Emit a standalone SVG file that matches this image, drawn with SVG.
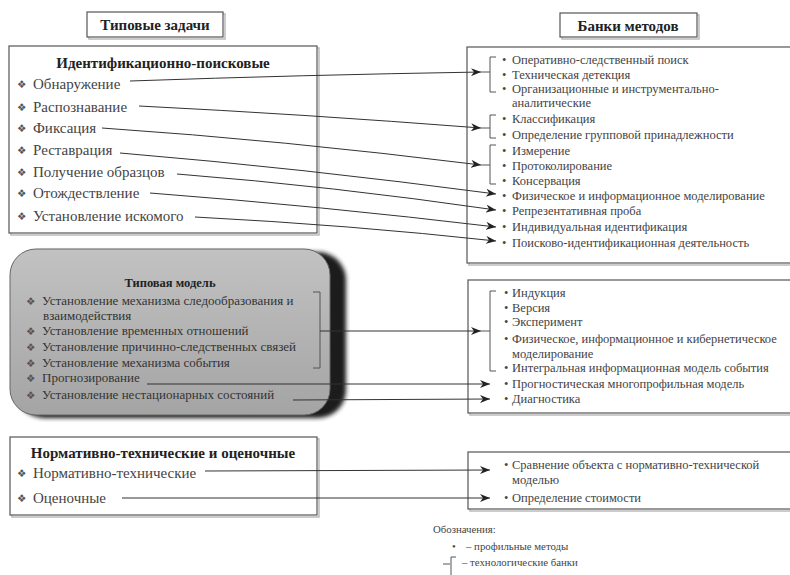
<svg xmlns="http://www.w3.org/2000/svg" width="790" height="575" viewBox="0 0 790 575">
<style>
.box{fill:#fff;stroke:#555;stroke-width:1.2}
.sh{fill:none;stroke:#bbb;stroke-width:1.5}
.hd{font-family:"Liberation Serif","Times New Roman",serif;font-weight:bold;fill:#222}
.it{font-family:"Liberation Serif","Times New Roman",serif;font-size:15px;fill:#444}
.rt{font-family:"Liberation Serif","Times New Roman",serif;font-size:12.5px;fill:#444}
.mt{font-family:"Liberation Serif","Times New Roman",serif;font-size:13px;fill:#333}
.dm{font-family:"DejaVu Sans",sans-serif;font-size:10.5px;fill:#555}
.bl{font-family:"Liberation Serif","Times New Roman",serif;font-size:10.8px;fill:#444}
.ln{fill:none;stroke:#333;stroke-width:1}
.br{fill:none;stroke:#555;stroke-width:1}
</style>
<defs>
<marker id="ar" viewBox="0 0 10 8" refX="10" refY="4" markerWidth="10" markerHeight="8" markerUnits="userSpaceOnUse" orient="auto">
<path d="M0,0 L10,4 L0,8 L3,4 Z" fill="#222"/>
</marker>
<linearGradient id="gm" x1="0" y1="0" x2="0" y2="1">
<stop offset="0" stop-color="#c2c2c2"/>
<stop offset="1" stop-color="#a4a4a4"/>
</linearGradient>
<filter id="bl" x="-10%" y="-10%" width="120%" height="120%"><feGaussianBlur stdDeviation="2"/></filter>
</defs>
<rect width="790" height="575" fill="#fff"/>

<g id="title-tasks">
<rect class="sh" x="89" y="14" width="136" height="25"/>
<rect class="box" x="87" y="12" width="136" height="25"/>
<text class="hd" x="155" y="30" font-size="15" text-anchor="middle">Типовые задачи</text>
</g>

<g id="title-banks">
<rect class="sh" x="562" y="15" width="137" height="24"/>
<rect class="box" x="560" y="13" width="137" height="24"/>
<text class="hd" x="628" y="30.5" font-size="15" text-anchor="middle">Банки методов</text>
</g>

<g id="tasks-ident">
<rect class="sh" x="11" y="48" width="308" height="187"/>
<rect class="box" x="9" y="46" width="308" height="187"/>
<text class="hd" x="163" y="68" font-size="15" text-anchor="middle">Идентификационно-поисковые</text>
<text class="dm" x="17" y="88">❖</text><text class="it" x="33" y="89">Обнаружение</text>
<text class="dm" x="17" y="111">❖</text><text class="it" x="33" y="112">Распознавание</text>
<text class="dm" x="17" y="132">❖</text><text class="it" x="33" y="133">Фиксация</text>
<text class="dm" x="17" y="154">❖</text><text class="it" x="33" y="155">Реставрация</text>
<text class="dm" x="17" y="176">❖</text><text class="it" x="33" y="177">Получение образцов</text>
<text class="dm" x="17" y="197">❖</text><text class="it" x="33" y="198">Отождествление</text>
<text class="dm" x="17" y="220">❖</text><text class="it" x="33" y="221">Установление искомого</text>
</g>

<g id="model">
<rect x="16" y="252" width="330" height="166" rx="28" fill="#1c1c1c" filter="url(#bl)"/>
<rect x="10" y="249" width="320" height="166" rx="26" fill="url(#gm)" stroke="#666" stroke-width="1"/>
<text class="hd" x="170" y="287" font-size="12.5" text-anchor="middle">Типовая модель</text>
<text class="dm" x="26" y="305">❖</text><text class="mt" x="42" y="305">Установление механизма следообразования и</text>
<text class="mt" x="43" y="320">взаимодействия</text>
<text class="dm" x="26" y="335">❖</text><text class="mt" x="42" y="335">Установление временных отношений</text>
<text class="dm" x="26" y="351">❖</text><text class="mt" x="42" y="351">Установление причинно-следственных связей</text>
<text class="dm" x="26" y="367">❖</text><text class="mt" x="42" y="367">Установление механизма события</text>
<text class="dm" x="26" y="382">❖</text><text class="mt" x="42" y="382">Прогнозирование</text>
<text class="dm" x="26" y="399">❖</text><text class="mt" x="42" y="399">Установление нестационарных состояний</text>
<path class="br" d="M313,292 H320 V368 H313"/>
</g>

<g id="tasks-norm">
<rect class="sh" x="12" y="439" width="307" height="78"/>
<rect class="box" x="10" y="437" width="307" height="78"/>
<text class="hd" x="163" y="458" font-size="15" text-anchor="middle">Нормативно-технические и оценочные</text>
<text class="dm" x="17" y="477">❖</text><text class="it" x="33" y="478">Нормативно-технические</text>
<text class="dm" x="17" y="502">❖</text><text class="it" x="33" y="503">Оценочные</text>
</g>

<g id="banks-1">
<rect class="sh" x="469" y="49" width="330" height="216"/>
<rect class="box" x="467" y="47" width="330" height="216"/>
<path class="br" d="M496,57 H490 V92 H496 M481,72 H490"/>
<path class="br" d="M496,115 H490 V138 H496 M481,128 H490"/>
<path class="br" d="M496,145 H490 V184 H496 M481,165 H490"/>
<g class="rt">
<text x="502" y="64">•</text><text x="512" y="64">Оперативно-следственный поиск</text>
<text x="502" y="79">•</text><text x="512" y="79">Техническая детекция</text>
<text x="502" y="93">•</text><text x="512" y="93">Организационные и инструментально-</text>
<text x="512" y="107">аналитические</text>
<text x="502" y="123">•</text><text x="512" y="123">Классификация</text>
<text x="502" y="139">•</text><text x="512" y="139">Определение групповой принадлежности</text>
<text x="502" y="155">•</text><text x="512" y="155">Измерение</text>
<text x="502" y="170">•</text><text x="512" y="170">Протоколирование</text>
<text x="502" y="185">•</text><text x="512" y="185">Консервация</text>
<text x="502" y="200">•</text><text x="512" y="200">Физическое и информационное моделирование</text>
<text x="502" y="215">•</text><text x="512" y="215">Репрезентативная проба</text>
<text x="502" y="231">•</text><text x="512" y="231">Индивидуальная идентификация</text>
<text x="502" y="247">•</text><text x="512" y="247">Поисково-идентификационная деятельность</text>
</g>
</g>

<g id="banks-2">
<rect class="sh" x="470" y="282" width="330" height="133"/>
<rect class="box" x="468" y="280" width="330" height="133"/>
<path class="br" d="M496,291 H490 V371 H496 M481,331 H490"/>
<g class="rt">
<text x="504" y="297">•</text><text x="512" y="297">Индукция</text>
<text x="504" y="312">•</text><text x="512" y="312">Версия</text>
<text x="504" y="326">•</text><text x="512" y="326">Эксперимент</text>
<text x="504" y="343">•</text><text x="512" y="343">Физическое, информационное и кибернетическое</text>
<text x="512" y="358">моделирование</text>
<text x="504" y="372">•</text><text x="512" y="372">Интегральная информационная модель события</text>
<text x="504" y="388">•</text><text x="512" y="388">Прогностическая многопрофильная модель</text>
<text x="504" y="403">•</text><text x="512" y="403">Диагностика</text>
</g>
</g>

<g id="banks-3">
<rect class="sh" x="470" y="454" width="330" height="57"/>
<rect class="box" x="468" y="452" width="330" height="57"/>
<g class="rt">
<text x="504" y="469">•</text><text x="512" y="469">Сравнение объекта с нормативно-технической</text>
<text x="512" y="484">моделью</text>
<text x="504" y="502">•</text><text x="512" y="502">Определение стоимости</text>
</g>
</g>

<g id="connectors">
<path class="ln" d="M130,81 Q300,75 481,72" marker-end="url(#ar)"/>
<path class="ln" d="M139,106 Q300,114 481,128" marker-end="url(#ar)"/>
<path class="ln" d="M102,128 Q280,140 481,165" marker-end="url(#ar)"/>
<path class="ln" d="M120,153 Q300,168 496,194" marker-end="url(#ar)"/>
<path class="ln" d="M177,174 Q330,186 496,210" marker-end="url(#ar)"/>
<path class="ln" d="M150,193 Q320,206 496,227" marker-end="url(#ar)"/>
<path class="ln" d="M195,217 Q350,225 496,241" marker-end="url(#ar)"/>
<path class="ln" d="M320,331 L481,331" marker-end="url(#ar)"/>
<path class="ln" d="M147,384 L490,384" marker-end="url(#ar)"/>
<path class="ln" d="M293,400 L490,399" marker-end="url(#ar)"/>
<path class="ln" d="M205,471 L490,470" marker-end="url(#ar)"/>
<path class="ln" d="M122,498 L490,498" marker-end="url(#ar)"/>
</g>

<g id="legend">
<text class="bl" x="433" y="533">Обозначения:</text>
<text class="bl" x="452" y="550">•</text>
<text class="bl" x="466" y="550">– профильные методы</text>
<path class="br" d="M443,564 H450 M456,557 H451 V575"/>
<text class="bl" x="462" y="566">– технологические банки</text>
</g>
</svg>
